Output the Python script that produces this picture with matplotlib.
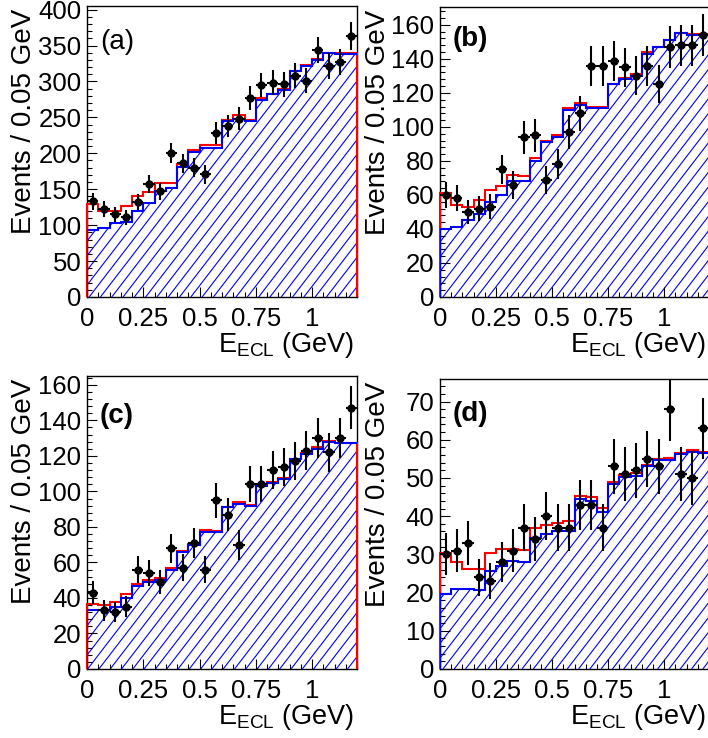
import numpy as np
import matplotlib
matplotlib.use("Agg")
import matplotlib.pyplot as plt
from matplotlib.collections import LineCollection
from matplotlib.transforms import IdentityTransform
from matplotlib.ticker import MultipleLocator

plt.rcParams["font.family"] = ["Liberation Sans", "DejaVu Sans"]
plt.rcParams["mathtext.fontset"] = "custom"
plt.rcParams["mathtext.rm"] = "Liberation Sans"

# 24 bins of 0.05 GeV from 0 to 1.2 GeV
bin_width = 0.05
n_bins = 24
edges = np.arange(n_bins + 1) * bin_width
centers = edges[:-1] + bin_width / 2

# --- panel (a) ---
data_a = [133, 122, 115, 111, 132, 157, 147, 200, 186, 180, 171, 228,
          238, 248, 277, 295, 298, 296, 308, 301, 344, 321, 327, 363]
total_a = [130, 120, 119, 126, 141, 146, 159, 159, 185, 205, 212, 212,
           247, 253, 247, 277, 283, 289, 315, 323, 331, 340, 339, 339]
bkg_a = [93, 96, 103, 105, 120, 131, 148, 152, 181, 202, 208, 208,
         245, 248, 245, 274, 282, 288, 314, 322, 330, 339, 338, 338]

# --- panel (b) ---
data_b = [60, 58, 50, 52, 53, 75, 66, 94, 95, 69, 78, 97,
          108, 136, 136, 139, 135, 130, 136, 125, 147, 148, 148, 154]
total_b = [61, 54, 53, 57, 63, 65, 72, 71, 82, 92, 95, 111,
           114, 112, 112, 125, 129, 131, 144, 147, 151, 155.5, 154.5, 154.5]
bkg_b = [40, 41, 45, 49, 56, 60, 68, 68, 80, 91, 94, 110,
         113, 111, 111, 125, 128, 130, 143, 147, 151, 155, 154, 154]

# --- panel (c) ---
data_c = [43, 33, 32, 35, 56, 54, 49, 68, 57, 71, 56, 95,
          87, 70, 104, 104, 112, 114, 117, 123, 130, 122, 130, 147]
total_c = [36.5, 36, 38, 42, 48, 50, 51.5, 57, 66.5, 70.5, 78, 77.5,
           91.5, 94, 92.5, 103.5, 105.5, 107.5, 118.5, 121.5, 125, 128.5, 127.5, 127.5]
bkg_c = [33, 33, 35, 40, 47, 49, 50, 56, 66, 70, 77, 77,
         91, 93, 92, 103, 105, 107, 118, 121, 124, 128, 127, 127]

# --- panel (d) ---
data_d = [30, 31, 33, 24, 23, 28, 31, 37, 34, 40, 37, 37,
          43, 43, 37, 53, 51, 52, 55, 53, 68, 51, 50, 63]
total_d = [30.3, 28.1, 26.2, 26.2, 30.3, 31.4, 31.4, 31.2, 36.8, 37.7, 38.1, 38.8,
           45.3, 45.1, 42.2, 49.0, 50.8, 51.4, 53.4, 55.0, 55.1, 56.5, 57.2, 56.9]
bkg_d = [19.6, 20.9, 21.0, 20.7, 25.7, 27.0, 28.3, 27.9, 34.4, 35.3, 36.2, 36.2,
         44.4, 44.1, 41.2, 48.4, 50.2, 50.5, 53.0, 54.7, 54.7, 56.3, 56.9, 56.6]

x_ticks = [0, 0.25, 0.5, 0.75, 1]
x_ticklabels = ["0", "0.25", "0.5", "0.75", "1"]

W, H = 708, 738


def px_rect(left, top, right, bottom):
    return [left / W, 1 - bottom / H, (right - left) / W, (bottom - top) / H]


def add_hatch(ax, clip_patch, spacing=11.3, slope=1.3):
    # ROOT-like "////" hatch, fixed spacing in pixels
    bb = ax.bbox
    run = bb.height / slope
    starts = np.arange(bb.x0 - run - spacing, bb.x1 + spacing, spacing)
    segs = [[(s, bb.y0), (s + run, bb.y1)] for s in starts]
    lc = LineCollection(segs, colors="#0000ff", linewidths=0.8,
                        transform=IdentityTransform(), zorder=1.5)
    ax.add_collection(lc, autolim=False)
    lc.set_clip_path(clip_patch)


panels = [
    ("(a)", "normal", data_a, total_a, bkg_a, (87, 6, 357, 297), 405, 50, 0.878),
    ("(b)", "bold", data_b, total_b, bkg_b, (440, 7, 709, 297), 170.5, 20, 0.89),
    ("(c)", "bold", data_c, total_c, bkg_c, (87, 376, 357, 669), 165, 20, 0.862),
    ("(d)", "bold", data_d, total_d, bkg_d, (440, 379, 709, 669), 75.9, 10, 0.879),
]

fig = plt.figure(figsize=(W / 100, H / 100), dpi=100)

for tag, weight, data, total, bkg, rect, ytop, ymajor, tag_y in panels:
    ax = fig.add_axes(px_rect(*rect))
    data = np.array(data, dtype=float)

    clip = ax.stairs(bkg, edges, baseline=0, fill=True,
                     facecolor="none", edgecolor="none")
    add_hatch(ax, clip)

    ax.stairs(total, edges, baseline=0, color="#ff0000", lw=1.5,
              zorder=2, clip_on=False)
    ax.stairs(bkg, edges, baseline=None, color="#0000ff", lw=1.5,
              zorder=3, clip_on=False)
    ax.vlines(edges[0], 0, bkg[0], color="#0000ff", lw=1.5, zorder=3)

    ax.errorbar(centers, data, yerr=np.sqrt(data), xerr=bin_width / 2,
                fmt="o", color="black", ms=5, elinewidth=1.5, capsize=0,
                zorder=5)

    ax.set_xlim(0, 1.2)
    ax.set_ylim(0, ytop)
    ax.set_xticks(x_ticks)
    ax.set_xticklabels(x_ticklabels)
    ax.xaxis.set_minor_locator(MultipleLocator(0.05))
    ax.yaxis.set_major_locator(MultipleLocator(ymajor))
    ax.yaxis.set_minor_locator(MultipleLocator(ymajor / 5))
    ax.tick_params(which="both", direction="in", top=False, right=False,
                   width=0.8, labelsize=18.5)
    ax.tick_params(which="major", length=7)
    ax.tick_params(which="minor", length=3.5)
    ax.tick_params(axis="x", which="major", pad=7.5)
    ax.tick_params(axis="y", which="major", pad=4)
    for sp in ax.spines.values():
        sp.set_linewidth(1.0)
        sp.set_zorder(1)

    ax.text(-0.206, 0.99, "Events / 0.05 GeV", rotation=90,
            rotation_mode="anchor", ha="right", va="baseline",
            transform=ax.transAxes, fontsize=20)
    ax.text(0.99, -0.189, r"E$_{\mathregular{ECL}}$ (GeV)", ha="right",
            va="baseline", transform=ax.transAxes, fontsize=19.5)
    ax.text(0.048, tag_y, tag, ha="left", va="center", fontsize=20,
            fontweight=weight, transform=ax.transAxes)

fig.savefig("out.png", dpi=100)
